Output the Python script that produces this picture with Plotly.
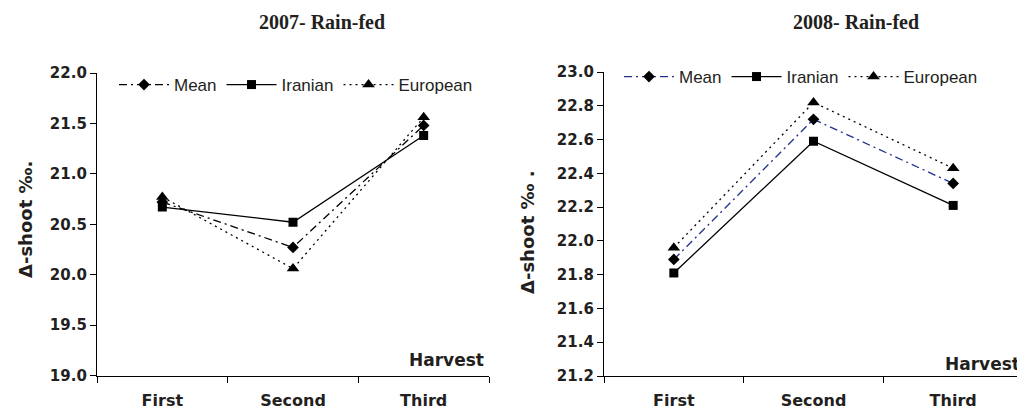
import plotly.graph_objects as go

# ---------------- data ----------------
harvests = ["First", "Second", "Third"]

mean_2007 = [20.72, 20.27, 21.48]
iranian_2007 = [20.67, 20.52, 21.38]
european_2007 = [20.77, 20.06, 21.56]

mean_2008 = [21.89, 22.72, 22.34]
iranian_2008 = [21.81, 22.59, 22.21]
european_2008 = [21.96, 22.82, 22.43]

series_names = ["Mean", "Iranian", "European"]
titles = ["2007- Rain-fed", "2008- Rain-fed"]
y_title = ["\u0394-shoot \u2030.", "\u0394-shoot \u2030 ."]
y_ticks_2007 = [19.0, 19.5, 20.0, 20.5, 21.0, 21.5, 22.0]
y_ticks_2008 = [21.2, 21.4, 21.6, 21.8, 22.0, 22.2, 22.4, 22.6, 22.8, 23.0]

# ---------------- styles ----------------
OFF = 8  # page body margin
W, H = 1025 - OFF, 410 - OFF
TXT = "#231f20"
BLUE = "#22308f"
TICKFONT = dict(family="DejaVu Sans", size=15, color=TXT, weight="bold")
XTICKFONT = dict(family="DejaVu Sans", size=16, color=TXT, weight="bold")
LEGFONT = dict(family="Liberation Sans, Arial", size=17, color=TXT)

def px_x(p):
    return (p - OFF) / W

def px_y(p):
    return 1 - (p - OFF) / H

fig = go.Figure()

styles_2007 = [
    dict(color="black", dash="8px,4px,2px,4px", symbol="diamond", size=9),
    dict(color="black", dash="solid", symbol="square", size=9),
    dict(color="black", dash="2px,4px", symbol="triangle-up", size=11),
]
styles_2008 = [
    dict(color=BLUE, dash="8px,4px,2px,4px", symbol="diamond", size=9),
    dict(color="black", dash="solid", symbol="square", size=9),
    dict(color="black", dash="2px,4px", symbol="triangle-up", size=11),
]

for name, vals, st in zip(series_names, [mean_2007, iranian_2007, european_2007], styles_2007):
    fig.add_trace(go.Scatter(
        x=harvests, y=vals, name=name, mode="lines+markers",
        line=dict(color=st["color"], width=1.3, dash=st["dash"]),
        marker=dict(symbol=st["symbol"], color="black", size=st["size"]),
        xaxis="x", yaxis="y", legend="legend",
    ))

for name, vals, st in zip(series_names, [mean_2008, iranian_2008, european_2008], styles_2008):
    fig.add_trace(go.Scatter(
        x=harvests, y=vals, name=name, mode="lines+markers",
        line=dict(color=st["color"], width=1.3, dash=st["dash"]),
        marker=dict(symbol=st["symbol"], color="black", size=st["size"]),
        xaxis="x2", yaxis="y2", legend="legend2",
    ))

xaxis_common = dict(
    type="category", tickson="boundaries", range=[-0.5, len(harvests) - 0.5],
    showline=True, linecolor="black",
    linewidth=1.3, ticks="outside", ticklen=6, tickcolor="black", tickwidth=1.3,
    showgrid=False, zeroline=False, tickfont=XTICKFONT, ticklabelstandoff=10,
    fixedrange=True, automargin=False,
)
yaxis_common = dict(
    showline=True, linecolor="black", linewidth=1.3, ticks="outside", ticklen=6,
    tickcolor="black", tickwidth=1.3, showgrid=False, zeroline=False,
    tickfont=TICKFONT, tickformat=".1f", fixedrange=True, automargin=False,
)

fig.update_layout(
    width=W, height=H,
    margin=dict(l=0, r=0, t=0, b=0, autoexpand=False),
    paper_bgcolor="white", plot_bgcolor="white",
    xaxis=dict(domain=[px_x(97), px_x(489)], anchor="y", **xaxis_common),
    yaxis=dict(domain=[px_y(375.5), px_y(73)], anchor="x", range=[19.0, 22.0],
               tickvals=y_ticks_2007, **yaxis_common),
    xaxis2=dict(domain=[px_x(604), px_x(1023)], anchor="y2", **xaxis_common),
    yaxis2=dict(domain=[px_y(376), px_y(72)], anchor="x2", range=[21.2, 23.0],
                tickvals=y_ticks_2008, **yaxis_common),
    legend=dict(orientation="h", x=px_x(114), y=px_y(85), xanchor="left",
                yanchor="middle", font=LEGFONT, bgcolor="rgba(0,0,0,0)",
                itemwidth=50, tracegroupgap=0),
    legend2=dict(orientation="h", x=px_x(619), y=px_y(77), xanchor="left",
                 yanchor="middle", font=LEGFONT, bgcolor="rgba(0,0,0,0)",
                 itemwidth=50, tracegroupgap=0),
    showlegend=True,
)

annotations = [
    dict(text=titles[0], x=px_x(322), y=px_y(22), xref="paper", yref="paper",
         showarrow=False, xanchor="center", yanchor="middle",
         font=dict(family="Liberation Serif, Times New Roman", size=20, color=TXT, weight="bold")),
    dict(text=titles[1], x=px_x(856), y=px_y(22), xref="paper", yref="paper",
         showarrow=False, xanchor="center", yanchor="middle",
         font=dict(family="Liberation Serif, Times New Roman", size=20, color=TXT, weight="bold")),
    dict(text=y_title[0], x=px_x(25), y=px_y(220), xref="paper", yref="paper",
         showarrow=False, textangle=-90, xanchor="center", yanchor="middle",
         font=dict(family="DejaVu Sans", size=18, color=TXT, weight="bold")),
    dict(text=y_title[1], x=px_x(527), y=px_y(232), xref="paper", yref="paper",
         showarrow=False, textangle=-90, xanchor="center", yanchor="middle",
         font=dict(family="DejaVu Sans", size=18, color=TXT, weight="bold")),
    dict(text="Harvest", x=px_x(486), y=px_y(360), xref="paper", yref="paper",
         showarrow=False, xanchor="right", yanchor="middle",
         font=dict(family="DejaVu Sans", size=17, color=TXT, weight="bold")),
    dict(text="Harvest", x=px_x(1022), y=px_y(364), xref="paper", yref="paper",
         showarrow=False, xanchor="right", yanchor="middle",
         font=dict(family="DejaVu Sans", size=17, color=TXT, weight="bold")),
]
fig.update_layout(annotations=annotations)

fig.write_html("out.html")
